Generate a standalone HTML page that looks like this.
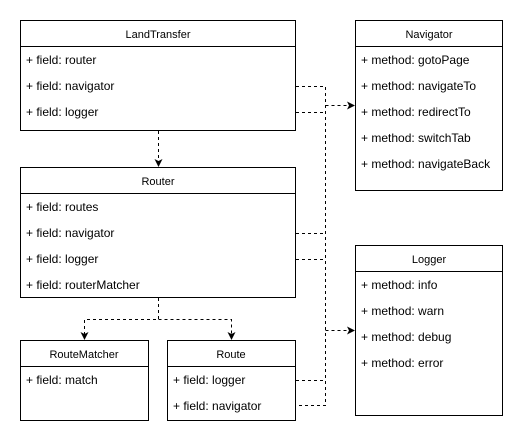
<!DOCTYPE html>
<html><head><style>
body{margin:0;background:#fff;}
svg text{font-family:"Liberation Sans",Arial,sans-serif;font-size:12px;fill:#000;}
.h{font-size:11px;}
</style></head><body>
<svg width="531" height="442" xmlns="http://www.w3.org/2000/svg">
<defs><marker id="a" markerWidth="8" markerHeight="8" refX="7" refY="4" orient="auto" markerUnits="userSpaceOnUse"><path d="M0,0 L8,4 L0,8 L2,4 Z" fill="#000"/></marker></defs>
<g fill="#fff" stroke="#000" stroke-width="1">
<rect x="20.5" y="20.5" width="275" height="110"/><line x1="20" y1="46.5" x2="296" y2="46.5"/>
<rect x="355.5" y="20.5" width="147" height="170"/><line x1="355" y1="46.5" x2="503" y2="46.5"/>
<rect x="20.5" y="167.5" width="275" height="130"/><line x1="20" y1="193.5" x2="296" y2="193.5"/>
<rect x="20.5" y="340.5" width="128" height="80"/><line x1="20" y1="366.5" x2="149" y2="366.5"/>
<rect x="167.5" y="340.5" width="128" height="80"/><line x1="167" y1="366.5" x2="296" y2="366.5"/>
<rect x="355.5" y="245.5" width="147" height="170"/><line x1="355" y1="271.5" x2="503" y2="271.5"/>
</g>
<g fill="none" stroke="#000" stroke-dasharray="3,3">
<path d="M296 86.5H325.5V405.5H296"/>
<path d="M296 112.5H325.5"/>
<path d="M296 233.5H325.5M296 259.5H325.5M296 380.5H325.5"/>
<path d="M325.5 105.5H354" marker-end="url(#a)"/>
<path d="M325.5 330.5H354" marker-end="url(#a)"/>
<path d="M158.5 131V166" marker-end="url(#a)"/>
<path d="M158.5 298V319.5H84.5V339" marker-end="url(#a)"/>
<path d="M158.5 319.5H231.5V339" marker-end="url(#a)"/>
</g>
<text class="h" x="158" y="38" text-anchor="middle">LandTransfer</text>
<text x="26" y="64">+ field: router</text>
<text x="26" y="90">+ field: navigator</text>
<text x="26" y="116">+ field: logger</text>
<text class="h" x="429" y="38" text-anchor="middle">Navigator</text>
<text x="361" y="64">+ method: gotoPage</text>
<text x="361" y="90">+ method: navigateTo</text>
<text x="361" y="116">+ method: redirectTo</text>
<text x="361" y="142">+ method: switchTab</text>
<text x="361" y="168">+ method: navigateBack</text>
<text class="h" x="158" y="185" text-anchor="middle">Router</text>
<text x="26" y="211">+ field: routes</text>
<text x="26" y="237">+ field: navigator</text>
<text x="26" y="263">+ field: logger</text>
<text x="26" y="289">+ field: routerMatcher</text>
<text class="h" x="84" y="358" text-anchor="middle">RouteMatcher</text>
<text x="26" y="384">+ field: match</text>
<text class="h" x="231" y="358" text-anchor="middle">Route</text>
<text x="173" y="384">+ field: logger</text>
<text x="173" y="410">+ field: navigator</text>
<text class="h" x="429" y="263" text-anchor="middle">Logger</text>
<text x="361" y="289">+ method: info</text>
<text x="361" y="315">+ method: warn</text>
<text x="361" y="341">+ method: debug</text>
<text x="361" y="367">+ method: error</text>
</svg>
</body></html>
